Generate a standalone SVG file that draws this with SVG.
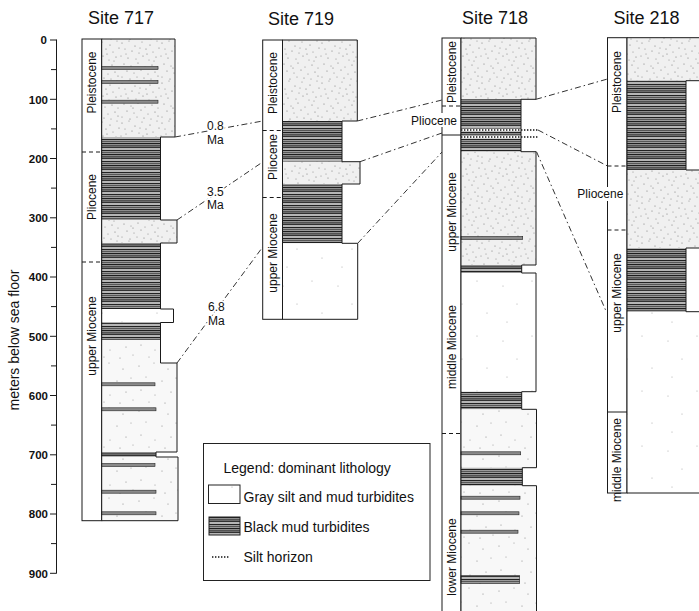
<svg xmlns="http://www.w3.org/2000/svg" width="699" height="611" viewBox="0 0 699 611">
<defs>
<pattern id="stipD" width="40" height="40" patternUnits="userSpaceOnUse">
<rect width="40" height="40" fill="#f0f0f0"/>
<g fill="#7a7a7a">
<circle cx="2" cy="3" r=".6"/><circle cx="9" cy="1" r=".5"/><circle cx="15" cy="6" r=".6"/><circle cx="22" cy="2" r=".5"/><circle cx="30" cy="5" r=".6"/><circle cx="37" cy="1" r=".5"/><circle cx="5" cy="9" r=".5"/><circle cx="12" cy="11" r=".6"/><circle cx="19" cy="13" r=".5"/><circle cx="26" cy="9" r=".6"/><circle cx="33" cy="12" r=".5"/><circle cx="39" cy="8" r=".6"/><circle cx="1" cy="16" r=".5"/><circle cx="8" cy="18" r=".6"/><circle cx="16" cy="19" r=".5"/><circle cx="23" cy="16" r=".6"/><circle cx="29" cy="20" r=".5"/><circle cx="36" cy="17" r=".6"/><circle cx="4" cy="24" r=".6"/><circle cx="11" cy="26" r=".5"/><circle cx="18" cy="23" r=".6"/><circle cx="25" cy="27" r=".5"/><circle cx="32" cy="25" r=".6"/><circle cx="38" cy="28" r=".5"/><circle cx="7" cy="31" r=".6"/><circle cx="14" cy="33" r=".5"/><circle cx="21" cy="30" r=".6"/><circle cx="28" cy="34" r=".5"/><circle cx="35" cy="32" r=".6"/><circle cx="2" cy="37" r=".5"/><circle cx="10" cy="39" r=".6"/><circle cx="17" cy="37" r=".5"/><circle cx="24" cy="38" r=".6"/><circle cx="31" cy="39" r=".5"/><circle cx="38" cy="36" r=".6"/><circle cx="20" cy="8" r=".5"/><circle cx="34" cy="21" r=".5"/><circle cx="13" cy="28" r=".6"/><circle cx="6" cy="14" r=".5"/><circle cx="27" cy="14" r=".6"/>
</g>
</pattern>
<pattern id="stipM" width="45" height="45" patternUnits="userSpaceOnUse">
<rect width="45" height="45" fill="#f8f8f8"/>
<g fill="#888">
<circle cx="4" cy="6" r=".6"/><circle cx="19" cy="3" r=".5"/><circle cx="33" cy="9" r=".6"/><circle cx="11" cy="17" r=".5"/><circle cx="27" cy="21" r=".6"/><circle cx="41" cy="18" r=".5"/><circle cx="6" cy="30" r=".6"/><circle cx="20" cy="35" r=".5"/><circle cx="36" cy="32" r=".6"/><circle cx="14" cy="42" r=".5"/><circle cx="30" cy="43" r=".6"/><circle cx="43" cy="40" r=".5"/>
</g>
</pattern>
<pattern id="stipS" width="55" height="55" patternUnits="userSpaceOnUse">
<rect width="55" height="55" fill="#fff"/>
<g fill="#999">
<circle cx="8" cy="11" r=".5"/><circle cx="37" cy="6" r=".5"/><circle cx="22" cy="29" r=".5"/><circle cx="47" cy="38" r=".5"/><circle cx="12" cy="47" r=".5"/>
</g>
</pattern>
<pattern id="mud" width="10" height="11" patternUnits="userSpaceOnUse">
<rect width="10" height="11" fill="#9a9a9a"/>
<rect y="0" width="10" height="1.1" fill="#1e1e1e"/>
<rect y="2.2" width="10" height="0.7" fill="#333"/>
<rect y="3.6" width="10" height="1.3" fill="#262626"/>
<rect y="5.6" width="10" height="0.8" fill="#e0e0e0"/>
<rect y="7" width="10" height="1" fill="#222"/>
<rect y="9" width="10" height="0.7" fill="#3a3a3a"/>
</pattern>
</defs>
<style>
text{font-family:"Liberation Sans",Arial,Helvetica,sans-serif;fill:#111}
.ttl{font-size:18px;text-anchor:middle}
.ep{font-size:12px;text-anchor:middle}
.eph{font-size:12px}
.ax{font-size:11.5px;font-weight:bold;text-anchor:end}
.ma{font-size:12px;stroke:#fff;stroke-width:3;paint-order:stroke;stroke-linejoin:round}
.lg{font-size:14px}
.ol{fill:none;stroke:#1a1a1a;stroke-width:1}
.bar{fill:#fff;stroke:#1a1a1a;stroke-width:1}
.bd{stroke:#1a1a1a;stroke-width:1;stroke-dasharray:4 3}
.bs{stroke:#1a1a1a;stroke-width:1}
.cor{fill:none;stroke:#333;stroke-width:1;stroke-dasharray:6 3 1.5 3}
.tl{fill:#8a8a8a;stroke:#222;stroke-width:0.6}
.D{fill:url(#stipD)}
.M{fill:url(#stipM)}
.S{fill:url(#stipS)}
.K{fill:url(#mud)}
.silt{stroke:#111;stroke-width:1.4;stroke-dasharray:1.4 1.6}
</style>
<rect width="699" height="611" fill="#fff"/>

<g id="axis">
<text class="ttl" x="0" y="0" transform="translate(19,340) rotate(-90)" style="font-size:14px">meters below sea floor</text>
<line class="bs" x1="56.5" y1="39.5" x2="56.5" y2="573.5"/>
<g class="bs">
<line x1="50" y1="40" x2="56.5" y2="40"/><line x1="51" y1="69.6" x2="56.5" y2="69.6"/>
<line x1="50" y1="99.3" x2="56.5" y2="99.3"/><line x1="51" y1="128.9" x2="56.5" y2="128.9"/>
<line x1="50" y1="158.5" x2="56.5" y2="158.5"/><line x1="51" y1="188.1" x2="56.5" y2="188.1"/>
<line x1="50" y1="217.8" x2="56.5" y2="217.8"/><line x1="51" y1="247.4" x2="56.5" y2="247.4"/>
<line x1="50" y1="277" x2="56.5" y2="277"/><line x1="51" y1="306.6" x2="56.5" y2="306.6"/>
<line x1="50" y1="336.3" x2="56.5" y2="336.3"/><line x1="51" y1="365.9" x2="56.5" y2="365.9"/>
<line x1="50" y1="395.5" x2="56.5" y2="395.5"/><line x1="51" y1="425.1" x2="56.5" y2="425.1"/>
<line x1="50" y1="454.8" x2="56.5" y2="454.8"/><line x1="51" y1="484.4" x2="56.5" y2="484.4"/>
<line x1="50" y1="514" x2="56.5" y2="514"/><line x1="51" y1="543.6" x2="56.5" y2="543.6"/>
<line x1="50" y1="573.3" x2="56.5" y2="573.3"/>
</g>
<text class="ax" x="47" y="44">0</text>
<text class="ax" x="48" y="103.5">100</text>
<text class="ax" x="48" y="162.7">200</text>
<text class="ax" x="48" y="222">300</text>
<text class="ax" x="48" y="281.2">400</text>
<text class="ax" x="48" y="340.5">500</text>
<text class="ax" x="48" y="399.7">600</text>
<text class="ax" x="48" y="459">700</text>
<text class="ax" x="48" y="518.2">800</text>
<text class="ax" x="48" y="577.5">900</text>
</g>

<g id="site717">
<text class="ttl" x="121" y="24">Site 717</text>
<rect class="bar" x="82" y="39" width="19.7" height="481.7"/>
<line class="bd" x1="82" y1="152" x2="101.7" y2="152"/>
<line class="bd" x1="82" y1="262" x2="101.7" y2="262"/>
<text class="ep" transform="translate(96,82.5) rotate(-90)">Pleistocene</text>
<text class="ep" transform="translate(96,197) rotate(-90)">Pliocene</text>
<text class="ep" transform="translate(96,336) rotate(-90)">upper Miocene</text>
<rect class="D" x="101.7" y="39" width="73.3" height="98"/>
<rect class="K" x="101.7" y="137" width="58.8" height="83"/>
<rect class="D" x="101.7" y="220" width="75.3" height="23"/>
<rect class="K" x="101.7" y="243" width="58.8" height="66"/>
<rect class="S" x="101.7" y="309" width="71.8" height="13.5"/>
<rect class="K" x="101.7" y="322.5" width="58.8" height="17.5"/>
<rect class="M" x="101.7" y="340" width="58.8" height="23"/>
<rect class="M" x="101.7" y="363" width="75.3" height="89"/>
<rect class="K" x="101.7" y="452" width="54.3" height="5"/>
<rect class="M" x="101.7" y="457" width="76.3" height="63.7"/>
<rect class="tl" x="101.7" y="66.5" width="56.3" height="3"/>
<rect class="tl" x="101.7" y="80.5" width="56.3" height="3"/>
<rect class="tl" x="101.7" y="100.2" width="56.3" height="3"/>
<rect class="tl" x="101.7" y="382.8" width="53.3" height="3"/>
<rect class="tl" x="101.7" y="407.8" width="54.3" height="3"/>
<rect class="tl" x="101.7" y="463.5" width="53.3" height="3"/>
<rect class="tl" x="101.7" y="490.2" width="54.3" height="3"/>
<rect class="tl" x="101.7" y="511.8" width="54.3" height="3"/>
<path class="ol" d="M101.7,39 H175 V137 H160.5 V220 H177 V243 H160.5 V309 H173.5 V322.5 H160.5 V363 H177 V452 H156 V457 H178 V520.7 H101.7 Z"/>
</g>

<g id="site719">
<text class="ttl" x="301" y="25">Site 719</text>
<rect class="bar" x="262.7" y="40" width="19.8" height="279.3"/>
<line class="bd" x1="262.7" y1="130.5" x2="282.5" y2="130.5"/>
<line class="bd" x1="262.7" y1="197.5" x2="282.5" y2="197.5"/>
<text class="ep" transform="translate(276.8,83) rotate(-90)">Pleistocene</text>
<text class="ep" transform="translate(276.8,157) rotate(-90)">Pliocene</text>
<text class="ep" transform="translate(276.8,253) rotate(-90)">upper Miocene</text>
<rect class="D" x="282.5" y="40" width="74.8" height="81"/>
<rect class="K" x="282.5" y="121" width="59.5" height="40.7"/>
<rect class="D" x="282.5" y="161.7" width="77.5" height="22.3"/>
<rect class="K" x="282.5" y="184" width="59.5" height="59.3"/>
<rect class="S" x="282.5" y="243.3" width="75.2" height="76"/>
<path class="ol" d="M282.5,40 H357.3 V121 H342 V161.7 H360 V184 H342 V243.3 H357.7 V319.3 H282.5 Z"/>
</g>

<g id="site718">
<text class="ttl" x="495" y="24">Site 718</text>
<rect class="bar" x="442" y="38" width="19" height="580"/>
<line class="bd" x1="442" y1="106" x2="461" y2="106"/>
<line class="bs" x1="442" y1="135" x2="461" y2="135"/>
<line class="bd" x1="442" y1="433.5" x2="461" y2="433.5"/>
<text class="ep" transform="translate(455.7,72) rotate(-90)">Pleistocene</text>
<text class="ep" transform="translate(455.7,212) rotate(-90)">upper Miocene</text>
<text class="ep" transform="translate(455.7,347) rotate(-90)">middle Miocene</text>
<text class="ep" transform="translate(455.7,557) rotate(-90)">lower Miocene</text>
<rect x="409" y="113" width="50" height="14" fill="#fff"/>
<text class="eph" x="411" y="124.5">Pliocene</text>
<rect class="D" x="461" y="38" width="75" height="61.3"/>
<rect class="K" x="461" y="99.3" width="60" height="52.4"/>
<rect class="D" x="461" y="151.7" width="75" height="113.3"/>
<rect class="K" x="461" y="265" width="60.7" height="8"/>
<rect class="S" x="461" y="273" width="75" height="118.7"/>
<rect class="K" x="461" y="391.7" width="60.7" height="17.6"/>
<rect class="M" x="461" y="409.3" width="75.5" height="58.4"/>
<rect class="K" x="461" y="467.7" width="61.3" height="18"/>
<rect class="M" x="461" y="485.7" width="75.5" height="130"/>
<rect class="tl" x="461" y="236.5" width="61.7" height="3"/>
<rect class="tl" x="461" y="451.8" width="59.7" height="3"/>
<rect class="tl" x="461" y="496.2" width="59" height="3"/>
<rect class="tl" x="461" y="511.8" width="58" height="3"/>
<rect class="tl" x="461" y="530.2" width="57" height="3"/>
<rect class="K" x="461" y="575.7" width="58.7" height="7.6" stroke="#222" stroke-width="0.6"/>
<rect x="461" y="128.6" width="77" height="2.8" fill="#fff"/>
<rect x="461" y="135.6" width="77" height="2.8" fill="#fff"/>
<line class="silt" x1="461" y1="130" x2="538" y2="130"/>
<line class="silt" x1="461" y1="137" x2="538" y2="137"/>
<path class="ol" d="M461,615 V38 H536 V99.3 H521 V151.7 H536 V265 H521.7 V273 H536 V391.7 H521.7 V409.3 H536.5 V467.7 H522.3 V485.7 H536.5 V615"/>
</g>

<g id="site218">
<text class="ttl" x="646.5" y="24">Site 218</text>
<rect class="bar" x="607.5" y="37.7" width="19.5" height="455.3"/>
<line class="bd" x1="607.5" y1="166" x2="627" y2="166"/>
<line class="bd" x1="607.5" y1="230" x2="627" y2="230"/>
<line class="bs" x1="607.5" y1="412" x2="627" y2="412"/>
<text class="ep" transform="translate(621.4,82) rotate(-90)">Pleistocene</text>
<text class="ep" transform="translate(621.4,293) rotate(-90)">upper Miocene</text>
<text class="ep" transform="translate(621.4,460) rotate(-90)">middle Miocene</text>
<rect x="575" y="187" width="51" height="14" fill="#fff"/>
<text class="eph" x="577.3" y="198">Pliocene</text>
<rect class="D" x="627" y="37.7" width="80" height="43"/>
<rect class="K" x="627" y="80.7" width="59" height="89.3"/>
<rect class="D" x="627" y="170" width="80" height="78"/>
<rect class="K" x="627" y="248" width="59" height="63.7"/>
<rect class="S" x="627" y="311.7" width="80" height="181.3"/>
<path class="ol" d="M705,37.7 H627 V493 H705 M705,80.7 H686 V170 H705 M705,248 H686 V311.7 H705"/>
</g>

<g id="connectors">
<path class="cor" d="M175,137 L262.7,121"/>
<path class="cor" d="M357.3,121 L442,100"/>
<path class="cor" d="M536,99.3 L607.5,79"/>
<path class="cor" d="M177,220 L262.7,162"/>
<path class="cor" d="M360,161.7 L442,133"/>
<path class="cor" d="M177,363 L262.7,247"/>
<path class="cor" d="M357.7,243.3 L442,152"/>
<path class="cor" d="M538,130 L607.5,166"/>
<path class="cor" d="M536.5,151.7 L606,311"/>
</g>

<g id="age-labels">
<text class="ma" x="207" y="129.5">0.8</text>
<text class="ma" x="207" y="143.5">Ma</text>
<text class="ma" x="207" y="195.5">3.5</text>
<text class="ma" x="207" y="208.5">Ma</text>
<text class="ma" x="208" y="311">6.8</text>
<text class="ma" x="208" y="325">Ma</text>
</g>

<g id="legend">
<rect x="203.5" y="443.5" width="226.5" height="137" fill="#fff" stroke="#222" stroke-width="1"/>
<text class="lg" x="223.5" y="472.5">Legend: dominant lithology</text>
<rect x="208.5" y="485" width="31.5" height="18.5" class="S" stroke="#222" stroke-width="1"/>
<text class="lg" x="243.5" y="501.5">Gray silt and mud turbidites</text>
<rect x="209" y="517" width="31" height="18" class="K" stroke="#222" stroke-width="1"/>
<text class="lg" x="243.5" y="531.5">Black mud turbidites</text>
<line class="silt" x1="212" y1="557" x2="229" y2="557"/>
<text class="lg" x="243.5" y="562">Silt horizon</text>
</g>
</svg>
